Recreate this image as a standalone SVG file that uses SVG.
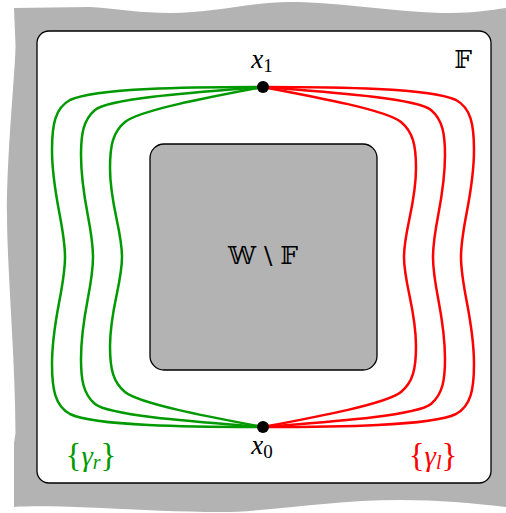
<svg xmlns="http://www.w3.org/2000/svg" width="506" height="513" viewBox="0 0 506 513">
  <style>
    .frame { fill: #b3b3b3; stroke: none; }
    .box { fill: #ffffff; stroke: #000000; stroke-width: 1.3; }
    .hole { fill: #b3b3b3; stroke: #000000; stroke-width: 1.3; }
    .g { fill: none; stroke: #009900; stroke-width: 2.5; }
    .r { fill: none; stroke: #ff0000; stroke-width: 2.5; }
    .pt { fill: #000000; }
    .math { font-family: "Liberation Serif", "DejaVu Serif", serif; font-size: 27px; fill: #000000; }
    .bb { font-family: "DejaVu Serif", "DejaVu Sans", serif; font-size: 25px; fill: #000000; }
    .it { font-style: italic; }
  </style>

  <g id="background">
    <path class="frame" d="M14,8 L90,7 C120,9 140,13 170,13 C215,13 250,2 290,2 C340,2 400,13 450,13 C475,13 490,10 506,8 L506,507 C470,503 440,500 400,500 C330,500 270,512 220,512 C150,512 60,504 14,507 L14,443 L15.5,433 C15.5,360 7,270 7,213 C7,150 15.5,70 15.5,45 Z"/>
  </g>

  <g id="region-F">
    <rect class="box" x="37" y="31" width="454" height="452" rx="12" ry="12"/>
    <text class="bb" x="463" y="68" text-anchor="middle">𝔽</text>
  </g>

  <g id="region-WF">
    <rect class="hole" x="150" y="144" width="227" height="226" rx="14" ry="14"/>
    <text class="bb" x="263" y="264" text-anchor="middle">𝕎 \ 𝔽</text>
  </g>

  <g id="connectors">
    <path class="g" d="M263,87 C190,87 95,88 70,100 C55,108 52,125 52,150 C52,195 65,225 65,257 C65,289 52,319 52,364 C52,389 55,406 70,414 C95,426 190,427 263,427"/>
    <path class="g" d="M263,87 C200,92 110,98 95,110 C83,120 81,135 81,155 C81,200 93,225 93,257 C93,289 81,314 81,359 C81,379 83,394 95,404 C110,416 200,422 263,427"/>
    <path class="g" d="M263,87 C210,97 140,110 125,122 C113,132 110,145 110,168 C110,205 122,230 122,257 C122,284 110,309 110,346 C110,369 113,382 125,392 C140,404 210,417 263,427"/>
    <path class="r" d="M263,87 C336,87 431,88 456,100 C471,108 474,125 474,150 C474,195 461,225 461,257 C461,289 474,319 474,364 C474,389 471,406 456,414 C431,426 336,427 263,427"/>
    <path class="r" d="M263,87 C326,92 416,98 431,110 C443,120 445,135 445,155 C445,200 433,225 433,257 C433,289 445,314 445,359 C445,379 443,394 431,404 C416,416 326,422 263,427"/>
    <path class="r" d="M263,87 C316,97 386,110 401,122 C413,132 416,145 416,168 C416,205 404,230 404,257 C404,284 416,309 416,346 C416,369 413,382 401,392 C386,404 316,417 263,427"/>
  </g>

  <g id="x1">
    <circle class="pt" cx="263" cy="87" r="6"/>
    <text class="math" x="262" y="68" text-anchor="middle"><tspan class="it">x</tspan><tspan font-size="19" dy="4">1</tspan></text>
  </g>

  <g id="x0">
    <circle class="pt" cx="263" cy="427" r="6"/>
    <text class="math" x="262" y="454" text-anchor="middle"><tspan class="it">x</tspan><tspan font-size="19" dy="4">0</tspan></text>
  </g>

  <g id="gamma-r">
    <text class="math" x="91" y="466" text-anchor="middle" style="fill:#009900;font-size:33px">{<tspan class="it" font-size="29">γ</tspan><tspan class="it" font-size="20" dy="3">r</tspan><tspan dy="-3">}</tspan></text>
  </g>

  <g id="gamma-l">
    <text class="math" x="433" y="466" text-anchor="middle" style="fill:#ff0000;font-size:33px">{<tspan class="it" font-size="29">γ</tspan><tspan class="it" font-size="20" dy="3">l</tspan><tspan dy="-3">}</tspan></text>
  </g>
</svg>
